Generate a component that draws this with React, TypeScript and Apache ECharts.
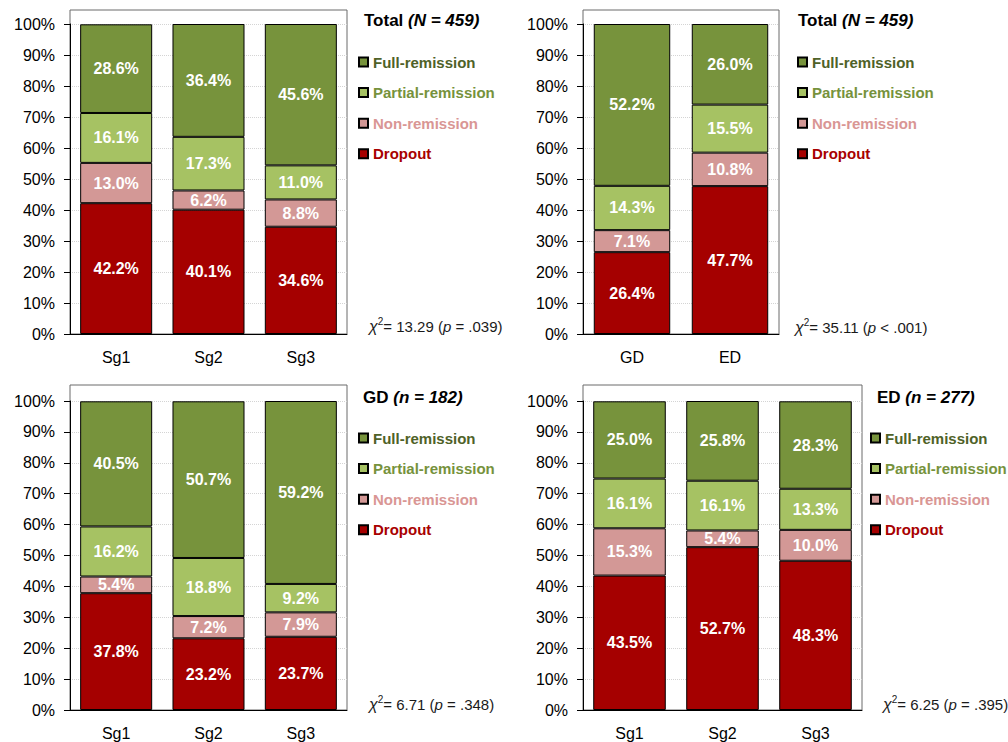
import React, { useEffect, useRef } from "react";
import * as echarts from "echarts";

// ---------- data ----------
const seriesNames = ["Dropout", "Non-remission", "Partial-remission", "Full-remission"];
const legendOrder = ["Full-remission", "Partial-remission", "Non-remission", "Dropout"];
const subgroupCats = ["Sg1", "Sg2", "Sg3"];
const groupCats = ["GD", "ED"];
const yTickValues = [0, 10, 20, 30, 40, 50, 60, 70, 80, 90, 100];

// Panel 1: Total by subgroup
const totalSgDropout = [42.2, 40.1, 34.6];
const totalSgNon = [13.0, 6.2, 8.8];
const totalSgPartial = [16.1, 17.3, 11.0];
const totalSgFull = [28.6, 36.4, 45.6];

// Panel 2: Total by group
const totalGrpDropout = [26.4, 47.7];
const totalGrpNon = [7.1, 10.8];
const totalGrpPartial = [14.3, 15.5];
const totalGrpFull = [52.2, 26.0];

// Panel 3: GD by subgroup
const gdDropout = [37.8, 23.2, 23.7];
const gdNon = [5.4, 7.2, 7.9];
const gdPartial = [16.2, 18.8, 9.2];
const gdFull = [40.5, 50.7, 59.2];

// Panel 4: ED by subgroup
const edDropout = [43.5, 52.7, 48.3];
const edNon = [15.3, 5.4, 10.0];
const edPartial = [16.1, 16.1, 13.3];
const edFull = [25.0, 25.8, 28.3];

const panelTitles = [
  ["Total ", "(N = 459)"],
  ["Total ", "(N = 459)"],
  ["GD ", "(n = 182)"],
  ["ED ", "(n = 277)"],
];
const chiValues = ["13.29", "35.11", "6.71", "6.25"];
const pTexts = [" = .039)", " < .001)", " = .348)", " = .395)"];

// ---------- styles ----------
const FONT = "'Liberation Sans', Arial, Helvetica, sans-serif";
const barColors: Record<string, string> = {
  "Dropout": "#A50000",
  "Non-remission": "#D39896",
  "Partial-remission": "#A6C263",
  "Full-remission": "#77933C",
};
const legendTextColors: Record<string, string> = {
  "Dropout": "#A80000",
  "Non-remission": "#D99694",
  "Partial-remission": "#76923C",
  "Full-remission": "#4F6228",
};

const panels = [
  {
    cats: subgroupCats,
    values: [totalSgDropout, totalSgNon, totalSgPartial, totalSgFull],
    grid: { left: 70, top: 24, width: 277, height: 310 },
    frame: { x: 70, y: 10, width: 277, height: 324 },
    titlePos: [364, 20],
    legendPos: [358, 54],
    chiPos: [369, 325],
  },
  {
    cats: groupCats,
    values: [totalGrpDropout, totalGrpNon, totalGrpPartial, totalGrpFull],
    grid: { left: 583, top: 24, width: 196, height: 310 },
    frame: { x: 583, y: 10, width: 196, height: 324 },
    titlePos: [798, 20],
    legendPos: [797, 54],
    chiPos: [795, 326],
  },
  {
    cats: subgroupCats,
    values: [gdDropout, gdNon, gdPartial, gdFull],
    grid: { left: 70, top: 401, width: 277, height: 309 },
    frame: { x: 70, y: 385, width: 277, height: 325 },
    titlePos: [363, 397],
    legendPos: [358, 430],
    chiPos: [369, 703],
  },
  {
    cats: subgroupCats,
    values: [edDropout, edNon, edPartial, edFull],
    grid: { left: 583, top: 401, width: 279, height: 309 },
    frame: { x: 583, y: 385, width: 279, height: 325 },
    titlePos: [877, 397],
    legendPos: [870, 430],
    chiPos: [883, 703],
  },
];

function buildOption() {
  const grids: any[] = [];
  const xAxes: any[] = [];
  const yAxes: any[] = [];
  const series: any[] = [];
  const legends: any[] = [];
  const graphics: any[] = [];

  panels.forEach((p, i) => {
    grids.push({ ...p.grid, containLabel: false });
    xAxes.push({
      type: "category",
      gridIndex: i,
      data: p.cats,
      axisLine: { show: true, lineStyle: { color: "#000", width: 1 } },
      axisTick: { show: false },
      axisLabel: { color: "#000", fontSize: 16, fontFamily: FONT, margin: 15 },
    });
    yAxes.push({
      type: "value",
      gridIndex: i,
      min: yTickValues[0],
      max: yTickValues[yTickValues.length - 1],
      interval: 10,
      axisLine: { show: true, lineStyle: { color: "#000", width: 1 } },
      axisTick: { show: true, inside: false, length: 6, lineStyle: { color: "#000" } },
      axisLabel: {
        color: "#000",
        fontSize: 16,
        fontFamily: FONT,
        margin: 15,
        formatter: (v: number) => `${v}%`,
      },
      splitLine: { show: true, lineStyle: { color: "#d4d4d4", type: "dotted", width: 1 } },
    });
    seriesNames.forEach((name, k) => {
      series.push({
        type: "bar",
        name,
        xAxisIndex: i,
        yAxisIndex: i,
        stack: "stack" + i,
        data: p.values[k],
        barCategoryGap: "22%",
        itemStyle: { color: barColors[name], borderColor: "#000", borderWidth: 1 },
        label: {
          show: true,
          position: "inside",
          color: "#fff",
          fontSize: 16,
          fontWeight: "bold",
          fontFamily: FONT,
          textBorderWidth: 0,
          formatter: (pr: any) => `${Number(pr.value).toFixed(1)}%`,
        },
        emphasis: { disabled: true },
      });
    });
    legends.push({
      orient: "vertical",
      left: p.legendPos[0],
      top: p.legendPos[1],
      padding: 0,
      itemWidth: 9,
      itemHeight: 9,
      itemGap: 14.6,
      icon: "rect",
      selectedMode: false,
      data: legendOrder.map((n) => ({ name: n, textStyle: { color: legendTextColors[n] } })),
      textStyle: { fontSize: 15, fontWeight: "bold", fontFamily: FONT, lineHeight: 16 },
    });
    graphics.push({
      type: "rect",
      silent: true,
      z: -1,
      shape: { ...p.frame },
      style: { fill: "none", stroke: "#6b6b6b", lineWidth: 1 },
    });
    graphics.push({
      type: "text",
      silent: true,
      x: p.titlePos[0],
      y: p.titlePos[1],
      style: {
        text: `{b|${panelTitles[i][0]}}{bi|${panelTitles[i][1]}}`,
        align: "left",
        verticalAlign: "middle",
        textAlign: "left",
        textVerticalAlign: "middle",
        rich: {
          b: { fontSize: 17, fontWeight: "bold", fontFamily: FONT, fill: "#000", color: "#000" },
          bi: { fontSize: 17, fontWeight: "bold", fontStyle: "italic", fontFamily: FONT, fill: "#000", color: "#000" },
        },
      },
    });
    graphics.push({
      type: "text",
      silent: true,
      x: p.chiPos[0],
      y: p.chiPos[1],
      style: {
        text: `{c|χ}{s|2}{n|= ${chiValues[i]} (}{i|p}{n|${pTexts[i]}}`,
        align: "left",
        verticalAlign: "middle",
        textAlign: "left",
        textVerticalAlign: "middle",
        rich: {
          c: { fontSize: 16, fontStyle: "italic", fontFamily: FONT, fill: "#1a1a1a", color: "#1a1a1a", lineHeight: 18, verticalAlign: "bottom" },
          n: { fontSize: 15, fontFamily: FONT, fill: "#1a1a1a", color: "#1a1a1a", lineHeight: 18, verticalAlign: "bottom" },
          s: { fontSize: 10, fontFamily: FONT, fill: "#1a1a1a", color: "#1a1a1a", lineHeight: 18, verticalAlign: "top" },
          i: { fontSize: 15, fontStyle: "italic", fontFamily: FONT, fill: "#1a1a1a", color: "#1a1a1a", lineHeight: 18, verticalAlign: "bottom" },
        },
      },
    });
  });

  return {
    animation: false,
    backgroundColor: "#fff",
    grid: grids,
    xAxis: xAxes,
    yAxis: yAxes,
    legend: legends,
    series,
    graphic: graphics,
  };
}

export default function App() {
  const ref = useRef<HTMLDivElement>(null);
  useEffect(() => {
    if (!ref.current) return;
    const chart = echarts.init(ref.current, undefined, { renderer: "svg" });
    chart.setOption(buildOption() as any);
    return () => chart.dispose();
  }, []);
  return (
    <div
      ref={ref}
      style={{ position: "fixed", left: 0, top: 0, width: 1008, height: 742, background: "#fff" }}
    />
  );
}
